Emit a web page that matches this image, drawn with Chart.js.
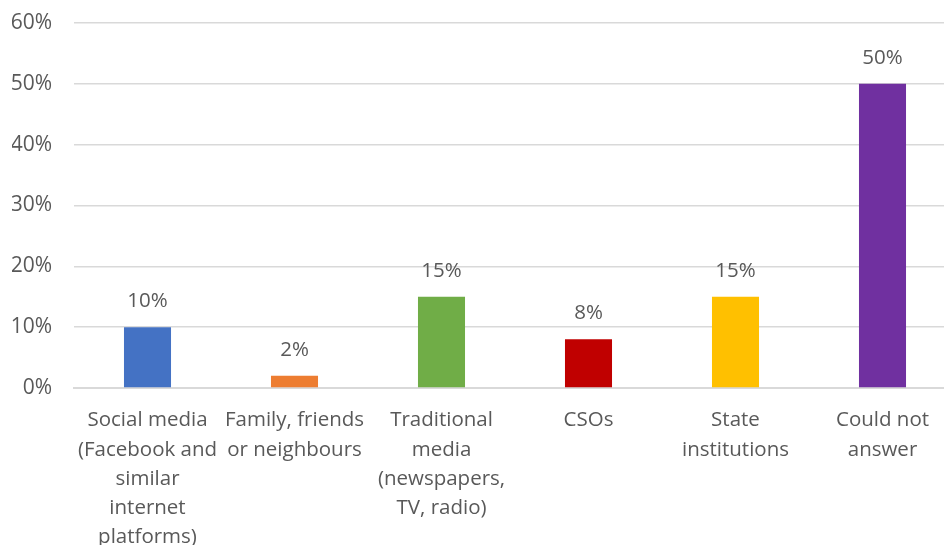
<!DOCTYPE html>
<html>
<head>
<meta charset="utf-8">
<script src="https://cdn.jsdelivr.net/npm/chart.js@4"></script>
<style>
  html, body { margin: 0; padding: 0; background: #fff; overflow: hidden; }
  #wrap { position: relative; width: 958px; height: 566px; }
</style>
</head>
<body>
<div id="wrap"><canvas id="chart"></canvas></div>
<script>
// categories and values
const categories = [
  ['Social media', '(Facebook and', 'similar', 'internet', 'platforms)'],
  ['Family, friends', 'or neighbours'],
  ['Traditional', 'media', '(newspapers,', 'TV, radio)'],
  ['CSOs'],
  ['State', 'institutions'],
  ['Could not', 'answer']
];
const values = [10, 2, 15, 8, 15, 50];
const barColors = ['#4472C4', '#ED7D31', '#70AD47', '#C00000', '#FFC000', '#7030A0'];
const yTicks = [0, 10, 20, 30, 40, 50, 60];

const textColor = '#595959';
const fontFamily = 'Open Sans, Liberation Sans, sans-serif';

// draws the value above each bar
const valueLabels = {
  id: 'valueLabels',
  afterDatasetsDraw(chart) {
    const ctx = chart.ctx;
    const meta = chart.getDatasetMeta(0);
    ctx.save();
    ctx.font = '20.5px ' + fontFamily;
    ctx.fillStyle = textColor;
    ctx.textAlign = 'center';
    ctx.textBaseline = 'middle';
    meta.data.forEach((bar, i) => {
      ctx.fillText(values[i] + '%', bar.x, bar.y - 26);
    });
    ctx.restore();
  }
};

new Chart(document.getElementById('chart'), {
  type: 'bar',
  data: {
    labels: categories,
    datasets: [{
      data: values,
      backgroundColor: barColors,
      borderWidth: 0,
      categoryPercentage: 1,
      barPercentage: 0.32
    }]
  },
  options: {
    responsive: true,
    maintainAspectRatio: false,
    animation: false,
    layout: { autoPadding: false, padding: { left: 12, right: 2, top: 23, bottom: 0 } },
    plugins: {
      legend: { display: false },
      tooltip: { enabled: false }
    },
    scales: {
      x: {
        afterFit(axis) {
          axis.height = 178;
        },
        grid: { display: false, drawTicks: false },
        border: { display: true, color: '#d9d9d9', width: 2 },
        ticks: {
          color: textColor,
          font: { family: fontFamily, size: 20.5, lineHeight: 1.42 },
          padding: 18,
          maxRotation: 0,
          autoSkip: false
        }
      },
      y: {
        min: 0,
        max: 60,
        afterBuildTicks(axis) {
          axis.ticks = yTicks.map(v => ({ value: v }));
        },
        afterFit(axis) {
          axis.width = 62;
        },
        // transparent tick marks keep the labels away from the plot
        grid: { color: '#d9d9d9', lineWidth: 1.5, drawTicks: true, tickLength: 22, tickColor: 'rgba(0,0,0,0)' },
        border: { display: false },
        ticks: {
          color: textColor,
          font: { family: fontFamily, size: 21 },
          padding: 0,
          callback: v => v + '%'
        }
      }
    }
  },
  plugins: [valueLabels]
});
</script>
</body>
</html>
